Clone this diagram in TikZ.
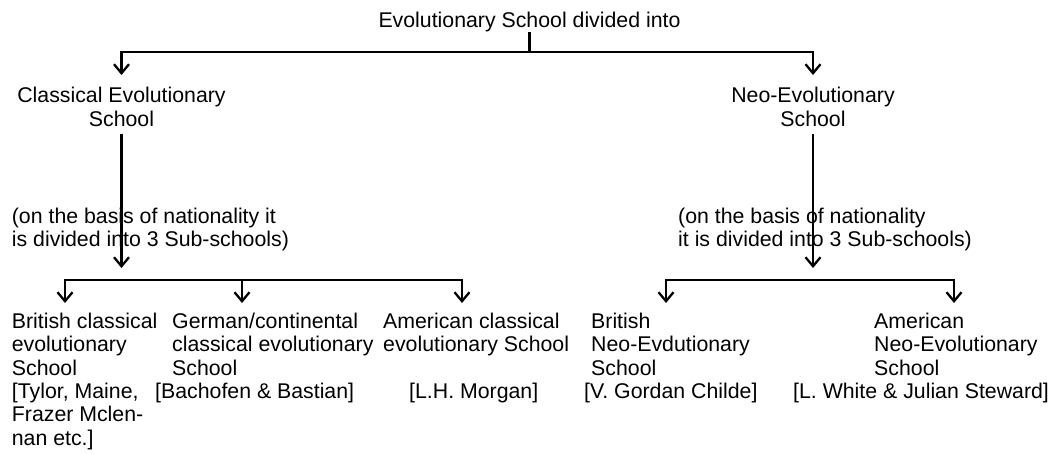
\documentclass[tikz,border=0pt]{standalone}
\usepackage{fontspec}
\setmainfont{Liberation Sans}
\usetikzlibrary{arrows.meta}

\begin{document}
\begin{tikzpicture}[x=1pt, y=-1pt,
    txt/.style={inner sep=0pt, font=\fontsize{21.3}{23.5}\selectfont},
    lft/.style={txt, align=left, anchor=north west},
    ctr/.style={txt, align=center, anchor=north},
    link/.style={line width=2.3pt, -{Straight Barb[length=9pt,width=15pt]}}]
    \useasboundingbox (0,0) rectangle (1052,453);

    % top level
    \node[ctr] (title) at (529.5,12) {Evolutionary School divided into};
    \node[ctr] (cls) at (121.5,87) {Classical Evolutionary\\School};
    \node[ctr] (neo) at (813,87) {Neo-Evolutionary\\School};

    \coordinate (top) at (529.5,52);
    \draw[line width=2.3pt] (title.south) -- (top);
    \draw[link, shorten >=12pt] (top) -| (cls.north);
    \draw[link, shorten >=12pt] (top) -| (neo.north);

    % remarks
    \node[lft] (lpar) at (11.7,207.5) {(on the basis of nationality it\\is divided into 3 Sub-schools)};
    \node[lft] (rpar) at (678,207.5) {(on the basis of nationality\\it is divided into 3 Sub-schools)};

    \coordinate (lfork) at (121.5,268);
    \coordinate (rfork) at (813,268);
    \draw[link, shorten <=7pt] (cls.south) -- (lfork);
    \draw[link, shorten <=7pt] (neo.south) -- (rfork);

    % sub-schools
    \coordinate (lbar) at (121.5,280);
    \coordinate (rbar) at (813,280);
    \coordinate (t1) at (65,303);
    \coordinate (t2) at (242,303);
    \coordinate (t3) at (462,303);
    \coordinate (t4) at (666,303);
    \coordinate (t5) at (954,303);
    \draw[link] (lbar) -| (t1);
    \draw[link] (lbar) -| (t2);
    \draw[link] (lbar) -| (t3);
    \draw[link] (rbar) -| (t4);
    \draw[link] (rbar) -| (t5);

    \node[lft] (bri) at (11.7,312.5) {British classical\\evolutionary\\School};
    \node[lft] (ger) at (172,312.5) {German/continental\\classical evolutionary\\School};
    \node[lft] (ame) at (383,312.5) {American classical\\evolutionary School};
    \node[lft] (bneo) at (591,312.5) {British\\Neo-Evdutionary\\School};
    \node[lft] (aneo) at (874,312.5) {American\\Neo-Evolutionary\\School};

    % thinkers
    \node[lft] (tyl) at (11.7,382.5) {[Tylor, Maine,\\Frazer Mclen-\\nan etc.]};
    \node[lft] (bach) at (155,382.5) {[Bachofen \& Bastian]};
    \node[lft] (morg) at (409,382.5) {[L.H. Morgan]};
    \node[lft] (chil) at (584,382.5) {[V. Gordan Childe]};
    \node[lft] (whit) at (793,382.5) {[L. White \& Julian Steward]};

\end{tikzpicture}
\end{document}
